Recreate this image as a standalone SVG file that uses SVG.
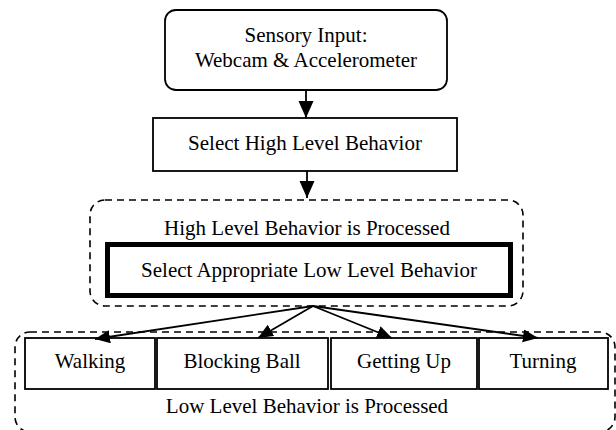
<svg xmlns="http://www.w3.org/2000/svg" width="616" height="430" viewBox="0 0 616 430">
<style>
text{font-family:"Liberation Serif","Times New Roman",serif;font-size:21px;fill:#000;text-anchor:middle}
.box{fill:#fff;stroke:#000;stroke-width:1.8}
.dash{fill:none;stroke:#000;stroke-width:1.6;stroke-dasharray:7 5}
.conn{stroke:#000;stroke-width:1.8;fill:none}
</style>
<defs>
<marker id="ah" markerUnits="userSpaceOnUse" markerWidth="18" markerHeight="16" refX="17" refY="7.5" orient="auto">
<path d="M0,0 L17,7.5 L0,15 Z" fill="#000"/>
</marker>
<marker id="ah2" markerUnits="userSpaceOnUse" markerWidth="16" markerHeight="14" refX="15" refY="6.5" orient="auto">
<path d="M0,0 L15,6.5 L0,13 Z" fill="#000"/>
</marker>
</defs>
<g id="sensory">
<rect class="box" x="165" y="10" width="282" height="80" rx="11"/>
<text x="306" y="42">Sensory Input:</text>
<text x="306" y="67">Webcam &amp; Accelerometer</text>
</g>
<g id="select-high">
<rect class="box" x="153" y="118" width="304" height="53"/>
<text x="305" y="150">Select High Level Behavior</text>
</g>
<g id="high-processed">
<rect class="dash" x="90" y="200" width="433" height="106" rx="15"/>
<text x="307" y="235">High Level Behavior is Processed</text>
</g>
<g id="select-low">
<rect x="107.5" y="244.5" width="403" height="51" fill="#fff" stroke="#000" stroke-width="5"/>
<text x="309" y="277">Select Appropriate Low Level Behavior</text>
</g>
<g id="low-processed">
<rect class="dash" x="15" y="332" width="600" height="100" rx="15"/>
<text x="307" y="413">Low Level Behavior is Processed</text>
</g>
<g id="walking">
<rect class="box" x="25" y="338" width="130" height="51"/>
<text x="90" y="368">Walking</text>
</g>
<g id="blocking-ball">
<rect class="box" x="157" y="338" width="171" height="51"/>
<text x="242" y="368">Blocking Ball</text>
</g>
<g id="getting-up">
<rect class="box" x="331" y="338" width="146" height="51"/>
<text x="404" y="368">Getting Up</text>
</g>
<g id="turning">
<rect class="box" x="479" y="338" width="129" height="51"/>
<text x="543" y="368">Turning</text>
</g>
<g id="connectors">
<line class="conn" x1="306" y1="90" x2="306" y2="118" marker-end="url(#ah)"/>
<line class="conn" x1="307" y1="171" x2="307" y2="198" marker-end="url(#ah)"/>
<line class="conn" x1="313" y1="306" x2="95" y2="339" marker-end="url(#ah2)"/>
<line class="conn" x1="313" y1="306" x2="258" y2="338" marker-end="url(#ah2)"/>
<line class="conn" x1="313" y1="306" x2="392" y2="338" marker-end="url(#ah2)"/>
<line class="conn" x1="313" y1="306" x2="538" y2="338" marker-end="url(#ah2)"/>
</g>
</svg>
